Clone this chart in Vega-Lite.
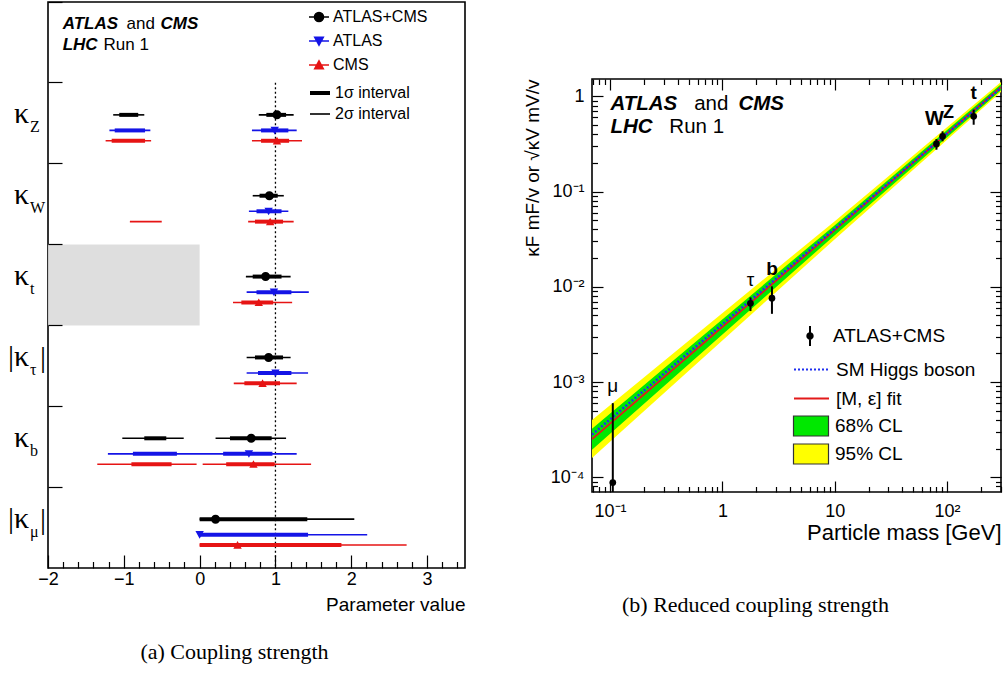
{
  "$schema": "https://vega.github.io/schema/vega-lite/v6.json",
  "background": "white",
  "padding": {"left": 7, "top": 0, "right": 0, "bottom": 0},
  "spacing": 56,
  "resolve": {"scale": {"color": "independent", "shape": "independent", "fill": "independent", "stroke": "independent", "strokeDash": "independent", "strokeWidth": "independent"}},
  "config": {
    "font": "Liberation Sans",
    "view": {"stroke": "#000000", "strokeWidth": 1.6},
    "axis": {"grid": false, "domain": false, "tickColor": "#000000", "tickWidth": 1.2, "labelColor": "#000000", "titleColor": "#000000", "titleFontWeight": "normal", "labelFont": "Liberation Sans", "titleFont": "Liberation Sans"},
    "legend": {"padding": 0, "labelFont": "Liberation Sans", "labelColor": "#000000", "labelLimit": 0},
    "title": {"color": "#000000"}
  },
  "datasets": {
    "kappa_best": [
      {"param": "κZ", "exp": "ATLAS+CMS", "val": 1.02},
      {"param": "κZ", "exp": "ATLAS", "val": 0.99},
      {"param": "κZ", "exp": "CMS", "val": 1.02},
      {"param": "κW", "exp": "ATLAS+CMS", "val": 0.92},
      {"param": "κW", "exp": "ATLAS", "val": 0.91},
      {"param": "κW", "exp": "CMS", "val": 0.93},
      {"param": "κt", "exp": "ATLAS+CMS", "val": 0.87},
      {"param": "κt", "exp": "ATLAS", "val": 0.98},
      {"param": "κt", "exp": "CMS", "val": 0.78},
      {"param": "|κτ|", "exp": "ATLAS+CMS", "val": 0.91},
      {"param": "|κτ|", "exp": "ATLAS", "val": 1.0},
      {"param": "|κτ|", "exp": "CMS", "val": 0.83},
      {"param": "κb", "exp": "ATLAS+CMS", "val": 0.68},
      {"param": "κb", "exp": "ATLAS", "val": 0.65},
      {"param": "κb", "exp": "CMS", "val": 0.71},
      {"param": "|κμ|", "exp": "ATLAS+CMS", "val": 0.21},
      {"param": "|κμ|", "exp": "ATLAS", "val": 0.0},
      {"param": "|κμ|", "exp": "CMS", "val": 0.5}
    ],
    "kappa_int": [
      {"param": "κZ", "exp": "ATLAS+CMS", "level": "2σ interval", "lo": -1.14, "hi": -0.73},
      {"param": "κZ", "exp": "ATLAS+CMS", "level": "2σ interval", "lo": 0.78, "hi": 1.24},
      {"param": "κZ", "exp": "ATLAS+CMS", "level": "1σ interval", "lo": -1.06, "hi": -0.81},
      {"param": "κZ", "exp": "ATLAS+CMS", "level": "1σ interval", "lo": 0.88, "hi": 1.14},
      {"param": "κZ", "exp": "ATLAS", "level": "2σ interval", "lo": -1.19, "hi": -0.65},
      {"param": "κZ", "exp": "ATLAS", "level": "2σ interval", "lo": 0.69, "hi": 1.28},
      {"param": "κZ", "exp": "ATLAS", "level": "1σ interval", "lo": -1.12, "hi": -0.72},
      {"param": "κZ", "exp": "ATLAS", "level": "1σ interval", "lo": 0.81, "hi": 1.17},
      {"param": "κZ", "exp": "CMS", "level": "2σ interval", "lo": -1.24, "hi": -0.64},
      {"param": "κZ", "exp": "CMS", "level": "2σ interval", "lo": 0.69, "hi": 1.35},
      {"param": "κZ", "exp": "CMS", "level": "1σ interval", "lo": -1.16, "hi": -0.72},
      {"param": "κZ", "exp": "CMS", "level": "1σ interval", "lo": 0.81, "hi": 1.18},
      {"param": "κW", "exp": "ATLAS+CMS", "level": "2σ interval", "lo": 0.7, "hi": 1.11},
      {"param": "κW", "exp": "ATLAS+CMS", "level": "1σ interval", "lo": 0.79, "hi": 1.03},
      {"param": "κW", "exp": "ATLAS", "level": "2σ interval", "lo": 0.65, "hi": 1.17},
      {"param": "κW", "exp": "ATLAS", "level": "1σ interval", "lo": 0.75, "hi": 1.08},
      {"param": "κW", "exp": "CMS", "level": "2σ interval", "lo": -0.92, "hi": -0.5},
      {"param": "κW", "exp": "CMS", "level": "2σ interval", "lo": 0.64, "hi": 1.24},
      {"param": "κW", "exp": "CMS", "level": "1σ interval", "lo": 0.73, "hi": 1.1},
      {"param": "κt", "exp": "ATLAS+CMS", "level": "2σ interval", "lo": 0.61, "hi": 1.2},
      {"param": "κt", "exp": "ATLAS+CMS", "level": "1σ interval", "lo": 0.7, "hi": 1.08},
      {"param": "κt", "exp": "ATLAS", "level": "2σ interval", "lo": 0.62, "hi": 1.44},
      {"param": "κt", "exp": "ATLAS", "level": "1σ interval", "lo": 0.75, "hi": 1.21},
      {"param": "κt", "exp": "CMS", "level": "2σ interval", "lo": 0.44, "hi": 1.22},
      {"param": "κt", "exp": "CMS", "level": "1σ interval", "lo": 0.55, "hi": 0.97},
      {"param": "|κτ|", "exp": "ATLAS+CMS", "level": "2σ interval", "lo": 0.62, "hi": 1.2},
      {"param": "|κτ|", "exp": "ATLAS+CMS", "level": "1σ interval", "lo": 0.73, "hi": 1.1},
      {"param": "|κτ|", "exp": "ATLAS", "level": "2σ interval", "lo": 0.62, "hi": 1.43},
      {"param": "|κτ|", "exp": "ATLAS", "level": "1σ interval", "lo": 0.77, "hi": 1.21},
      {"param": "|κτ|", "exp": "CMS", "level": "2σ interval", "lo": 0.45, "hi": 1.28},
      {"param": "|κτ|", "exp": "CMS", "level": "1σ interval", "lo": 0.59, "hi": 1.06},
      {"param": "κb", "exp": "ATLAS+CMS", "level": "2σ interval", "lo": -1.02, "hi": -0.21},
      {"param": "κb", "exp": "ATLAS+CMS", "level": "2σ interval", "lo": 0.21, "hi": 1.14},
      {"param": "κb", "exp": "ATLAS+CMS", "level": "1σ interval", "lo": -0.73, "hi": -0.44},
      {"param": "κb", "exp": "ATLAS+CMS", "level": "1σ interval", "lo": 0.4, "hi": 0.95},
      {"param": "κb", "exp": "ATLAS", "level": "2σ interval", "lo": -1.21, "hi": 1.28},
      {"param": "κb", "exp": "ATLAS", "level": "1σ interval", "lo": -0.88, "hi": -0.3},
      {"param": "κb", "exp": "ATLAS", "level": "1σ interval", "lo": 0.31, "hi": 0.96},
      {"param": "κb", "exp": "CMS", "level": "2σ interval", "lo": -1.35, "hi": -0.04},
      {"param": "κb", "exp": "CMS", "level": "2σ interval", "lo": 0.04, "hi": 1.47},
      {"param": "κb", "exp": "CMS", "level": "1σ interval", "lo": -0.9, "hi": -0.37},
      {"param": "κb", "exp": "CMS", "level": "1σ interval", "lo": 0.35, "hi": 0.99},
      {"param": "|κμ|", "exp": "ATLAS+CMS", "level": "2σ interval", "lo": 0.0, "hi": 2.04},
      {"param": "|κμ|", "exp": "ATLAS+CMS", "level": "1σ interval", "lo": 0.0, "hi": 1.42},
      {"param": "|κμ|", "exp": "ATLAS", "level": "2σ interval", "lo": 0.0, "hi": 2.21},
      {"param": "|κμ|", "exp": "ATLAS", "level": "1σ interval", "lo": 0.0, "hi": 1.43},
      {"param": "|κμ|", "exp": "CMS", "level": "2σ interval", "lo": 0.0, "hi": 2.73},
      {"param": "|κμ|", "exp": "CMS", "level": "1σ interval", "lo": 0.0, "hi": 1.87}
    ],
    "excluded": [{"from": -2, "to": 0}],
    "sm": [{"value": 1}],
    "klabels": [
      {"param": "κZ", "head": "κ", "sub": "Z", "tail": ""},
      {"param": "κW", "head": "κ", "sub": "W", "tail": ""},
      {"param": "κt", "head": "κ", "sub": "t", "tail": ""},
      {"param": "|κτ|", "head": "|κ", "sub": "τ", "tail": "|"},
      {"param": "κb", "head": "κ", "sub": "b", "tail": ""},
      {"param": "|κμ|", "head": "|κ", "sub": "μ", "tail": "|"}
    ],
    "bands": [
      {"cl": "95% CL", "m": 0.069, "lo": 0.000159, "hi": 0.0004},
      {"cl": "95% CL", "m": 10, "lo": 0.0316, "hi": 0.0489},
      {"cl": "95% CL", "m": 302, "lo": 1.11, "hi": 1.41},
      {"cl": "68% CL", "m": 0.069, "lo": 0.000195, "hi": 0.000324},
      {"cl": "68% CL", "m": 10, "lo": 0.0348, "hi": 0.0444},
      {"cl": "68% CL", "m": 302, "lo": 1.16, "hi": 1.34}
    ],
    "curves": [
      {"curve": "SM Higgs boson", "m": 0.069, "y": 0.00028},
      {"curve": "SM Higgs boson", "m": 302, "y": 1.228},
      {"curve": "[M, ε] fit", "m": 0.069, "y": 0.000251},
      {"curve": "[M, ε] fit", "m": 302, "y": 1.25}
    ],
    "particles": [
      {"p": "μ", "src": "ATLAS+CMS", "m": 0.1057, "val": 0.000088, "lo": 0.00001, "hi": 0.0006},
      {"p": "τ", "src": "ATLAS+CMS", "m": 1.777, "val": 0.0067, "lo": 0.00556, "hi": 0.00774},
      {"p": "b", "src": "ATLAS+CMS", "m": 2.76, "val": 0.0076, "lo": 0.0052, "hi": 0.0101},
      {"p": "W", "src": "ATLAS+CMS", "m": 80.4, "val": 0.316, "lo": 0.275, "hi": 0.356},
      {"p": "Z", "src": "ATLAS+CMS", "m": 91.2, "val": 0.38, "lo": 0.337, "hi": 0.429},
      {"p": "t", "src": "ATLAS+CMS", "m": 172.5, "val": 0.617, "lo": 0.503, "hi": 0.723}
    ]
  },
  "hconcat": [
    {
      "width": 417,
      "height": 566,
      "title": {"text": "(a) Coupling strength", "orient": "bottom", "anchor": "middle", "font": "Liberation Serif", "fontSize": 22, "fontWeight": "normal", "offset": 28, "dx": -22},
      "resolve": {"axis": {"x": "independent"}},
      "layer": [
        {
          "data": {"name": "excluded"},
          "mark": {"type": "rect", "color": "#dadada", "opacity": 0.9},
          "encoding": {
            "x": {
              "field": "from", "type": "quantitative",
              "scale": {"domain": [-2, 3.5], "nice": false, "zero": false},
              "axis": {
                "orient": "bottom",
                "values": [-2, -1.8, -1.6, -1.4, -1.2, -1, -0.8, -0.6, -0.4, -0.2, 0, 0.2, 0.4, 0.6, 0.8, 1, 1.2, 1.4, 1.6, 1.8, 2, 2.2, 2.4, 2.6, 2.8, 3, 3.2, 3.4],
                "labelExpr": "round(datum.value) == datum.value ? (datum.value < 0 ? '−' + (-datum.value) : '' + datum.value) : ''",
                "tickSize": {"condition": {"test": "round(datum.value) == datum.value", "value": -13}, "value": -6.5},
                "labelPadding": 15.5, "labelFontSize": 18, "labelOverlap": false, "labelFlush": false,
                "title": "Parameter value", "titleFontSize": 19, "titleAnchor": "end", "titlePadding": 0
              }
            },
            "x2": {"field": "to"},
            "y": {
              "datum": "κt", "type": "nominal", "bandPosition": 0,
              "scale": {"domain": ["top", "κZ", "κW", "κt", "|κτ|", "κb", "|κμ|"], "paddingInner": 0, "paddingOuter": 0},
              "axis": {"bandPosition": 0, "labels": false, "ticks": true, "tickSize": -14, "title": null}
            },
            "y2": {"datum": "|κτ|", "bandPosition": 0}
          }
        },
        {
          "data": {"name": "sm"},
          "mark": {"type": "rule", "strokeDash": [2, 2.5], "strokeWidth": 1.3, "color": "#000000"},
          "encoding": {
            "x": {"field": "value", "type": "quantitative", "axis": null},
            "y": {"datum": "κZ", "type": "nominal", "bandPosition": 0},
            "y2": {"datum": "|κμ|", "bandPosition": 1}
          }
        },
        {
          "encoding": {
            "y": {"field": "param", "type": "nominal"},
            "yOffset": {
              "field": "exp", "type": "nominal",
              "scale": {"type": "point", "domain": ["s1", "s2", "s3", "s4", "s5", "ATLAS+CMS", "s6", "s7", "ATLAS", "s8", "CMS", "s9", "s10", "s11", "s12"], "padding": 0.8, "align": 0.735}
            }
          },
          "layer": [
            {
              "data": {"name": "kappa_int"},
              "transform": [{"filter": "datum.level == '2σ interval'"}],
              "mark": {"type": "rule"},
              "encoding": {
                "x": {"field": "lo", "type": "quantitative", "axis": null},
                "x2": {"field": "hi"},
                "stroke": {
                  "field": "exp", "type": "nominal",
                  "scale": {"domain": ["ATLAS+CMS", "ATLAS", "CMS"], "range": ["#000000", "#1414e6", "#e61414"]},
                  "legend": {"orient": "none", "legendX": 260, "legendY": 4, "title": null, "labelFontSize": 16, "symbolSize": 400, "rowPadding": 5, "labelOffset": 3, "symbolStrokeWidth": 1.6}
                },
                "strokeWidth": {
                  "field": "level", "type": "ordinal",
                  "scale": {"domain": ["1σ interval", "2σ interval"], "range": [4, 1.6]},
                  "legend": {"orient": "none", "legendX": 260, "legendY": 79, "title": null, "labelFontSize": 16, "symbolType": "stroke", "symbolSize": 400, "symbolStrokeColor": "#000000", "rowPadding": 2, "labelOffset": 3}
                }
              }
            },
            {
              "data": {"name": "kappa_int"},
              "transform": [{"filter": "datum.level == '1σ interval'"}],
              "mark": {"type": "rule"},
              "encoding": {
                "x": {"field": "lo", "type": "quantitative", "axis": null},
                "x2": {"field": "hi"},
                "stroke": {
                  "field": "exp", "type": "nominal",
                  "legend": {"orient": "none", "legendX": 260, "legendY": 4, "title": null, "labelFontSize": 16, "symbolSize": 400, "rowPadding": 5, "labelOffset": 3, "symbolStrokeWidth": 1.6}
                },
                "strokeWidth": {
                  "field": "level", "type": "ordinal",
                  "legend": {"orient": "none", "legendX": 260, "legendY": 79, "title": null, "labelFontSize": 16, "symbolType": "stroke", "symbolSize": 400, "symbolStrokeColor": "#000000", "rowPadding": 2, "labelOffset": 3}
                }
              }
            },
            {
              "data": {"name": "kappa_best"},
              "mark": {"type": "point", "filled": true, "size": 400, "opacity": 1},
              "encoding": {
                "x": {"field": "val", "type": "quantitative", "axis": null},
                "color": {
                  "field": "exp", "type": "nominal",
                  "scale": {"domain": ["ATLAS+CMS", "ATLAS", "CMS"], "range": ["#000000", "#1414e6", "#e61414"]},
                  "legend": {"orient": "none", "legendX": 260, "legendY": 4, "title": null, "labelFontSize": 16, "symbolSize": 400, "rowPadding": 5, "labelOffset": 3, "symbolStrokeWidth": 1.6}
                },
                "shape": {
                  "field": "exp", "type": "nominal",
                  "scale": {
                    "domain": ["ATLAS+CMS", "ATLAS", "CMS"],
                    "range": [
                      "M-1,0H1M-0.45,0A0.45,0.45,0,1,1,0.45,0A0.45,0.45,0,1,1,-0.45,0Z",
                      "M-1,0H1M-0.42,-0.36H0.42L0,0.4Z",
                      "M-1,0H1M-0.42,0.36H0.42L0,-0.4Z"
                    ]
                  },
                  "legend": {"orient": "none", "legendX": 260, "legendY": 4, "title": null, "labelFontSize": 16, "symbolSize": 400, "rowPadding": 5, "labelOffset": 3, "symbolStrokeWidth": 1.6}
                }
              }
            }
          ]
        },
        {
          "data": {"values": [{}]},
          "layer": [
            {"mark": {"type": "text", "text": "ATLAS", "align": "left", "baseline": "middle", "fontSize": 17, "fontWeight": "bold", "fontStyle": "italic", "dy": -18.4}, "encoding": {"x": {"datum": -1.807, "type": "quantitative", "axis": null}, "y": {"datum": "top", "type": "nominal"}}},
            {"mark": {"type": "text", "text": "and", "align": "left", "baseline": "middle", "fontSize": 17, "dy": -18.4}, "encoding": {"x": {"datum": -0.963, "type": "quantitative", "axis": null}, "y": {"datum": "top", "type": "nominal"}}},
            {"mark": {"type": "text", "text": "CMS", "align": "left", "baseline": "middle", "fontSize": 17, "fontWeight": "bold", "fontStyle": "italic", "dy": -18.4}, "encoding": {"x": {"datum": -0.515, "type": "quantitative", "axis": null}, "y": {"datum": "top", "type": "nominal"}}},
            {"mark": {"type": "text", "text": "LHC", "align": "left", "baseline": "middle", "fontSize": 17, "fontWeight": "bold", "fontStyle": "italic", "dy": 2.6}, "encoding": {"x": {"datum": -1.807, "type": "quantitative", "axis": null}, "y": {"datum": "top", "type": "nominal"}}},
            {"mark": {"type": "text", "text": "Run 1", "align": "left", "baseline": "middle", "fontSize": 17, "dy": 2.6}, "encoding": {"x": {"datum": -1.267, "type": "quantitative", "axis": null}, "y": {"datum": "top", "type": "nominal"}}}
          ]
        },
        {
          "data": {"name": "klabels"},
          "layer": [
            {"mark": {"type": "text", "font": "Liberation Serif", "fontSize": 30, "align": "right", "baseline": "alphabetic", "dx": -19, "dy": 0}, "encoding": {"x": {"datum": -2, "type": "quantitative", "axis": null}, "y": {"field": "param", "type": "nominal"}, "text": {"field": "head"}}},
            {"mark": {"type": "text", "font": "Liberation Serif", "fontSize": 16, "align": "left", "baseline": "alphabetic", "dx": -18, "dy": 9}, "encoding": {"x": {"datum": -2, "type": "quantitative", "axis": null}, "y": {"field": "param", "type": "nominal"}, "text": {"field": "sub"}}},
            {"mark": {"type": "text", "font": "Liberation Serif", "fontSize": 30, "align": "left", "baseline": "alphabetic", "dx": -8, "dy": 1}, "encoding": {"x": {"datum": -2, "type": "quantitative", "axis": null}, "y": {"field": "param", "type": "nominal"}, "text": {"field": "tail"}}}
          ]
        }
      ]
    },
    {
      "spacing": 0,
      "resolve": {"scale": {"shape": "independent", "fill": "independent", "stroke": "independent", "strokeDash": "independent"}},
      "vconcat": [
        {
          "width": 409,
          "height": 75,
          "view": {"stroke": null},
          "data": {"values": []},
          "mark": {"type": "rule"},
          "encoding": {}
        },
        {
          "width": 409,
          "height": 413,
          "title": {"text": "(b) Reduced coupling strength", "orient": "bottom", "anchor": "middle", "font": "Liberation Serif", "fontSize": 22, "fontWeight": "normal", "offset": 52, "dx": -41},
          "resolve": {"axis": {"x": "independent", "y": "independent"}},
          "layer": [
            {
              "layer": [
                {
                  "data": {"name": "bands"},
                  "transform": [{"filter": "datum.cl == '95% CL'"}],
                  "mark": {"type": "area", "clip": true, "opacity": 1},
                  "encoding": {
                    "x": {
                      "field": "m", "type": "quantitative",
                      "scale": {"type": "log", "domain": [0.069, 302], "nice": false},
                      "axis": {
                        "orient": "bottom",
                        "values": [0.07, 0.08, 0.09, 0.1, 0.2, 0.3, 0.4, 0.5, 0.6, 0.7, 0.8, 0.9, 1, 2, 3, 4, 5, 6, 7, 8, 9, 10, 20, 30, 40, 50, 60, 70, 80, 90, 100, 200, 300],
                        "labelExpr": "datum.value == 0.1 ? '10⁻¹' : datum.value == 1 ? '1' : datum.value == 10 ? '10' : datum.value == 100 ? '10²' : ''",
                        "tickSize": {"condition": {"test": "abs(log(datum.value)/LN10 - round(log(datum.value)/LN10)) < 0.001", "value": -11}, "value": -5.5},
                        "labelPadding": 21.5, "labelFontSize": 18, "labelOverlap": false, "labelFlush": false,
                        "title": "Particle mass [GeV]", "titleFontSize": 22, "titleAnchor": "end", "titlePadding": -4
                      }
                    },
                    "y": {
                      "field": "lo", "type": "quantitative",
                      "scale": {"type": "log", "domain": [0.00007, 1.52], "nice": false},
                      "axis": {
                        "orient": "left",
                        "values": [0.00008, 0.00009, 0.0001, 0.0002, 0.0003, 0.0004, 0.0005, 0.0006, 0.0007, 0.0008, 0.0009, 0.001, 0.002, 0.003, 0.004, 0.005, 0.006, 0.007, 0.008, 0.009, 0.01, 0.02, 0.03, 0.04, 0.05, 0.06, 0.07, 0.08, 0.09, 0.1, 0.2, 0.3, 0.4, 0.5, 0.6, 0.7, 0.8, 0.9, 1],
                        "labelExpr": "datum.value == 1 ? '1' : datum.value == 0.1 ? '10⁻¹' : datum.value == 0.01 ? '10⁻²' : datum.value == 0.001 ? '10⁻³' : datum.value == 0.0001 ? '10⁻⁴' : ''",
                        "tickSize": {"condition": {"test": "abs(log(datum.value)/LN10 - round(log(datum.value)/LN10)) < 0.001", "value": -11}, "value": -5.5},
                        "labelPadding": 19, "labelFontSize": 18, "labelOverlap": false, "labelFlush": false,
                        "title": "κF mF/v  or  √κV mV/v", "titleFontSize": 19, "titleAnchor": "end", "titlePadding": 8
                      }
                    },
                    "y2": {"field": "hi"},
                    "fill": {
                      "field": "cl", "type": "nominal",
                      "scale": {"domain": ["68% CL", "95% CL"], "range": ["#00e800", "#ffff00"]},
                      "legend": {"orient": "none", "legendX": 208, "legendY": 336, "title": null, "labelFontSize": 19, "symbolType": "M-1.75,-1H1.75V1H-1.75Z", "symbolSize": 400, "symbolStrokeColor": "#333333", "symbolStrokeWidth": 1.2, "rowPadding": 2, "labelOffset": 13}
                    }
                  }
                },
                {
                  "data": {"name": "bands"},
                  "transform": [{"filter": "datum.cl == '68% CL'"}],
                  "mark": {"type": "area", "clip": true, "opacity": 1},
                  "encoding": {
                    "x": {"field": "m", "type": "quantitative"},
                    "y": {"field": "lo", "type": "quantitative"},
                    "y2": {"field": "hi"},
                    "fill": {
                      "field": "cl", "type": "nominal",
                      "legend": {"orient": "none", "legendX": 208, "legendY": 336, "title": null, "labelFontSize": 19, "symbolType": "M-1.75,-1H1.75V1H-1.75Z", "symbolSize": 400, "symbolStrokeColor": "#333333", "symbolStrokeWidth": 1.2, "rowPadding": 2, "labelOffset": 13}
                    }
                  }
                },
                {
                  "data": {"name": "curves"},
                  "transform": [{"filter": "datum.curve == '[M, ε] fit'"}],
                  "mark": {"type": "line", "clip": true, "strokeWidth": 1.8},
                  "encoding": {
                    "x": {"field": "m", "type": "quantitative"},
                    "y": {"field": "y", "type": "quantitative"},
                    "stroke": {
                      "field": "curve", "type": "nominal",
                      "scale": {"domain": ["SM Higgs boson", "[M, ε] fit"], "range": ["#1f2ff0", "#e31a1a"]},
                      "legend": {"orient": "none", "legendX": 208, "legendY": 279, "title": null, "labelFontSize": 19, "symbolType": "M-1.75,0H1.75", "symbolSize": 400, "symbolStrokeWidth": 2.2, "rowPadding": 7, "labelOffset": 13}
                    },
                    "strokeDash": {
                      "field": "curve", "type": "nominal",
                      "scale": {"domain": ["SM Higgs boson", "[M, ε] fit"], "range": [[2, 2], [1, 0]]},
                      "legend": {"orient": "none", "legendX": 208, "legendY": 279, "title": null, "labelFontSize": 19, "symbolType": "M-1.75,0H1.75", "symbolSize": 400, "symbolStrokeWidth": 2.2, "rowPadding": 7, "labelOffset": 13}
                    }
                  }
                },
                {
                  "data": {"name": "curves"},
                  "transform": [{"filter": "datum.curve == 'SM Higgs boson'"}],
                  "mark": {"type": "line", "clip": true, "strokeWidth": 2.5},
                  "encoding": {
                    "x": {"field": "m", "type": "quantitative"},
                    "y": {"field": "y", "type": "quantitative"},
                    "stroke": {"field": "curve", "type": "nominal"},
                    "strokeDash": {"field": "curve", "type": "nominal"}
                  }
                },
                {
                  "data": {"name": "particles"},
                  "mark": {"type": "rule", "clip": true, "strokeWidth": 2, "color": "#000000"},
                  "encoding": {
                    "x": {"field": "m", "type": "quantitative"},
                    "y": {"field": "lo", "type": "quantitative"},
                    "y2": {"field": "hi"}
                  }
                },
                {
                  "data": {"name": "particles"},
                  "mark": {"type": "point", "filled": true, "size": 400, "color": "#000000", "opacity": 0},
                  "encoding": {
                    "x": {"field": "m", "type": "quantitative"},
                    "y": {"field": "val", "type": "quantitative"},
                    "shape": {
                      "field": "src", "type": "nominal",
                      "scale": {"domain": ["ATLAS+CMS"], "range": ["M-0.1,-1H0.1V-0.36H-0.1ZM-0.1,0.36H0.1V1H-0.1ZM-0.37,0A0.37,0.37,0,1,1,0.37,0A0.37,0.37,0,1,1,-0.37,0Z"]},
                      "legend": {"orient": "none", "legendX": 208, "legendY": 247, "title": null, "labelFontSize": 19, "symbolSize": 400, "symbolFillColor": "#000000", "symbolOpacity": 1, "symbolStrokeWidth": 0, "labelOffset": 13}
                    }
                  }
                },
                {
                  "data": {"name": "particles"},
                  "transform": [{"filter": "datum.p == 'μ' || datum.p == 'τ'"}],
                  "mark": {"type": "text", "fontSize": 19, "baseline": "middle", "dy": -17, "color": "#000000"},
                  "encoding": {"x": {"field": "m", "type": "quantitative"}, "y": {"field": "hi", "type": "quantitative"}, "text": {"field": "p"}}
                },
                {
                  "data": {"name": "particles"},
                  "transform": [{"filter": "datum.p == 'b' || datum.p == 't'"}],
                  "mark": {"type": "text", "fontSize": 19, "fontWeight": "bold", "baseline": "middle", "dy": -17, "color": "#000000"},
                  "encoding": {"x": {"field": "m", "type": "quantitative"}, "y": {"field": "hi", "type": "quantitative"}, "text": {"field": "p"}}
                },
                {
                  "data": {"name": "particles"},
                  "transform": [{"filter": "datum.p == 'W'"}],
                  "mark": {"type": "text", "fontSize": 20, "fontWeight": "bold", "baseline": "middle", "dy": -20, "dx": -2, "color": "#000000"},
                  "encoding": {"x": {"field": "m", "type": "quantitative"}, "y": {"field": "hi", "type": "quantitative"}, "text": {"field": "p"}}
                },
                {
                  "data": {"name": "particles"},
                  "transform": [{"filter": "datum.p == 'Z'"}],
                  "mark": {"type": "text", "fontSize": 18, "fontWeight": "bold", "baseline": "middle", "dy": -18, "dx": 6, "color": "#000000"},
                  "encoding": {"x": {"field": "m", "type": "quantitative"}, "y": {"field": "hi", "type": "quantitative"}, "text": {"field": "p"}}
                },
                {
                  "data": {"values": [{}]},
                  "layer": [
                    {"mark": {"type": "text", "text": "ATLAS", "align": "left", "baseline": "middle", "fontSize": 20.5, "fontWeight": "bold", "fontStyle": "italic"}, "encoding": {"x": {"datum": 0.1007, "type": "quantitative"}, "y": {"datum": 0.84, "type": "quantitative"}}},
                    {"mark": {"type": "text", "text": "and", "align": "left", "baseline": "middle", "fontSize": 20.5}, "encoding": {"x": {"datum": 0.56, "type": "quantitative"}, "y": {"datum": 0.84, "type": "quantitative"}}},
                    {"mark": {"type": "text", "text": "CMS", "align": "left", "baseline": "middle", "fontSize": 20.5, "fontWeight": "bold", "fontStyle": "italic"}, "encoding": {"x": {"datum": 1.388, "type": "quantitative"}, "y": {"datum": 0.84, "type": "quantitative"}}},
                    {"mark": {"type": "text", "text": "LHC", "align": "left", "baseline": "middle", "fontSize": 20.5, "fontWeight": "bold", "fontStyle": "italic"}, "encoding": {"x": {"datum": 0.1007, "type": "quantitative"}, "y": {"datum": 0.48, "type": "quantitative"}}},
                    {"mark": {"type": "text", "text": "Run 1", "align": "left", "baseline": "middle", "fontSize": 20.5}, "encoding": {"x": {"datum": 0.337, "type": "quantitative"}, "y": {"datum": 0.48, "type": "quantitative"}}}
                  ]
                }
              ]
            },
            {
              "data": {"name": "particles"},
              "mark": {"type": "point", "filled": true, "shape": "circle", "size": 45, "color": "#000000", "opacity": 1},
              "encoding": {
                "x": {
                  "field": "m", "type": "quantitative",
                  "axis": {
                    "orient": "top", "labels": false, "title": null,
                    "values": [0.07, 0.08, 0.09, 0.1, 0.2, 0.3, 0.4, 0.5, 0.6, 0.7, 0.8, 0.9, 1, 2, 3, 4, 5, 6, 7, 8, 9, 10, 20, 30, 40, 50, 60, 70, 80, 90, 100, 200, 300],
                    "tickSize": {"condition": {"test": "abs(log(datum.value)/LN10 - round(log(datum.value)/LN10)) < 0.001", "value": -11}, "value": -5.5}
                  }
                },
                "y": {
                  "field": "val", "type": "quantitative",
                  "axis": {
                    "orient": "right", "labels": false, "title": null,
                    "values": [0.00008, 0.00009, 0.0001, 0.0002, 0.0003, 0.0004, 0.0005, 0.0006, 0.0007, 0.0008, 0.0009, 0.001, 0.002, 0.003, 0.004, 0.005, 0.006, 0.007, 0.008, 0.009, 0.01, 0.02, 0.03, 0.04, 0.05, 0.06, 0.07, 0.08, 0.09, 0.1, 0.2, 0.3, 0.4, 0.5, 0.6, 0.7, 0.8, 0.9, 1],
                    "tickSize": {"condition": {"test": "abs(log(datum.value)/LN10 - round(log(datum.value)/LN10)) < 0.001", "value": -11}, "value": -5.5}
                  }
                }
              }
            }
          ]
        }
      ]
    }
  ]
}
